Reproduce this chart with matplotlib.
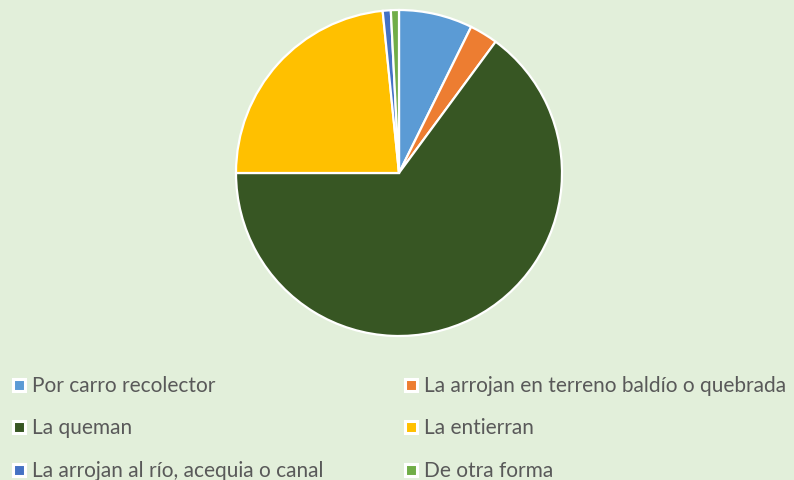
import matplotlib
matplotlib.use("Agg")
import matplotlib.pyplot as plt
from matplotlib.lines import Line2D

categories = ["Por carro recolector", "La arrojan en terreno baldío o quebrada",
              "La queman", "La entierran",
              "La arrojan al río, acequia o canal", "De otra forma"]
values = [7.3, 2.8, 64.9, 23.4, 0.8, 0.8]
colors = ["#5B9BD5", "#ED7D31", "#375623", "#FFC000", "#4472C4", "#70AD47"]

bg = "#E2EFDA"
W, H = 794, 480
fig = plt.figure(figsize=(W / 100, H / 100), dpi=100)
fig.patch.set_facecolor(bg)

cx, cy, r = 399, 173, 163
ax = fig.add_axes([(cx - r) / W, (H - cy - r) / H, 2 * r / W, 2 * r / H])
ax.set_facecolor(bg)
ax.pie(values, colors=colors, startangle=90, counterclock=False,
       wedgeprops=dict(edgecolor="white", linewidth=1.6))
ax.set_xlim(-1, 1)
ax.set_ylim(-1, 1)
ax.set_aspect("equal")
ax.axis("off")

font = dict(family=["Lato", "DejaVu Sans"], size=15)
handles = [Line2D([], [], marker="s", linestyle="none", markersize=8.6,
                  markerfacecolor=c, markeredgecolor="white", markeredgewidth=2.2)
           for c in colors]

for col, x0 in ((0, 13), (1, 405)):
    idx = [col, col + 2, col + 4]
    fig.legend([handles[i] for i in idx], [categories[i] for i in idx],
               loc="upper left", bbox_to_anchor=(x0 / W, 1 - 376 / H),
               frameon=False, prop=font, labelcolor="#595959",
               handlelength=0.6, handletextpad=0.3, labelspacing=1.08,
               borderaxespad=0, borderpad=0)

fig.savefig("out.png", dpi=100, facecolor=bg)
